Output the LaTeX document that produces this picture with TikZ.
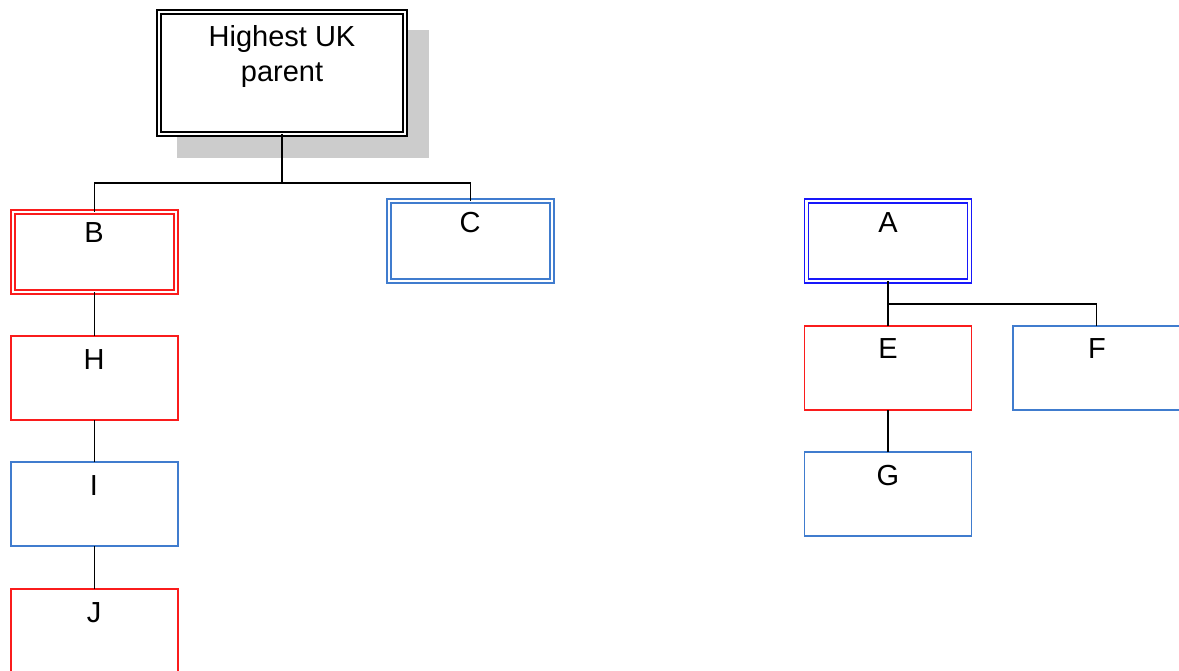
\documentclass[tikz,border=0pt]{standalone}
\usepackage{fontspec}
\setmainfont{Liberation Sans}
\definecolor{boxred}{RGB}{250,28,28}
\definecolor{boxblue}{RGB}{64,124,206}
\definecolor{deepblue}{RGB}{24,24,250}
\definecolor{shade}{RGB}{204,204,204}
\tikzset{
  box/.style={draw, line width=1.5pt, minimum width=167pt, minimum height=84pt,
              inner sep=0pt, outer sep=0pt, fill=white},
  dbox/.style={draw, line width=1.4pt, double=white, double distance=2.4pt,
               minimum width=163pt, minimum height=80pt, inner sep=0pt, outer sep=0pt,
               fill=white},
  lbl/.style={font=\fontsize{29}{35}\selectfont, inner sep=0pt, anchor=base},
  link/.style={draw=black, line width=1.3pt}
}
\begin{document}
\begin{tikzpicture}[x=1pt, y=-1pt]
\useasboundingbox (0,0) rectangle (1179,671);
\clip (0,0) rectangle (1179,671);

% top-level parent with its drop shadow
\node[fill=shade, minimum width=252pt, minimum height=128pt, inner sep=0pt] (Ps) at (303,94) {};
\node[draw=black, line width=1.4pt, double=white, double distance=2.4pt, fill=white,
      minimum width=246pt, minimum height=122pt, inner sep=0pt, outer sep=0pt] (P) at (282,73) {};
\node[lbl, align=center] (Pt) at (282,82) {Highest UK\\parent};

% left tree
\node[dbox, draw=boxred] (B) at (94.5,252) {};
\node[lbl] (Bt) at (94,243) {B};
\node[dbox, draw=boxblue] (C) at (470.5,241) {};
\node[lbl] (Ct) at (470,233) {C};
\node[box, draw=boxred] (H) at (94.5,378) {};
\node[lbl] (Ht) at (94,369) {H};
\node[box, draw=boxblue] (I) at (94.5,504) {};
\node[lbl] (It) at (94,495) {I};
\node[box, draw=boxred] (J) at (94.5,631) {};
\node[lbl] (Jt) at (94,622) {J};

% right tree
\node[dbox, draw=deepblue] (A) at (888,241) {};
\node[lbl] (At) at (888,233) {A};
\node[box, draw=boxred] (E) at (888,368) {};
\node[lbl] (Et) at (888,359) {E};
\node[box, draw=boxblue] (F) at (1096.5,368) {};
\node[lbl] (Ft) at (1097,359) {F};
\node[box, draw=boxblue] (G) at (888,494) {};
\node[lbl] (Gt) at (888,485) {G};

% connectors
\coordinate (bus1) at (0,183);
\coordinate (bus2) at (0,304);
\draw[link] (P.south) -- (P.south |- bus1) -| (B.north);
\draw[link] (P.south) -- (P.south |- bus1) -| (C.north);
\draw[link] (B.south) -- (H.north);
\draw[link] (H.south) -- (I.north);
\draw[link] (I.south) -- (J.north);
\draw[link] (A.south) -- (E.north);
\draw[link] (A.south) -- (A.south |- bus2) -| (F.north);
\draw[link] (E.south) -- (G.north);
\end{tikzpicture}
\end{document}
